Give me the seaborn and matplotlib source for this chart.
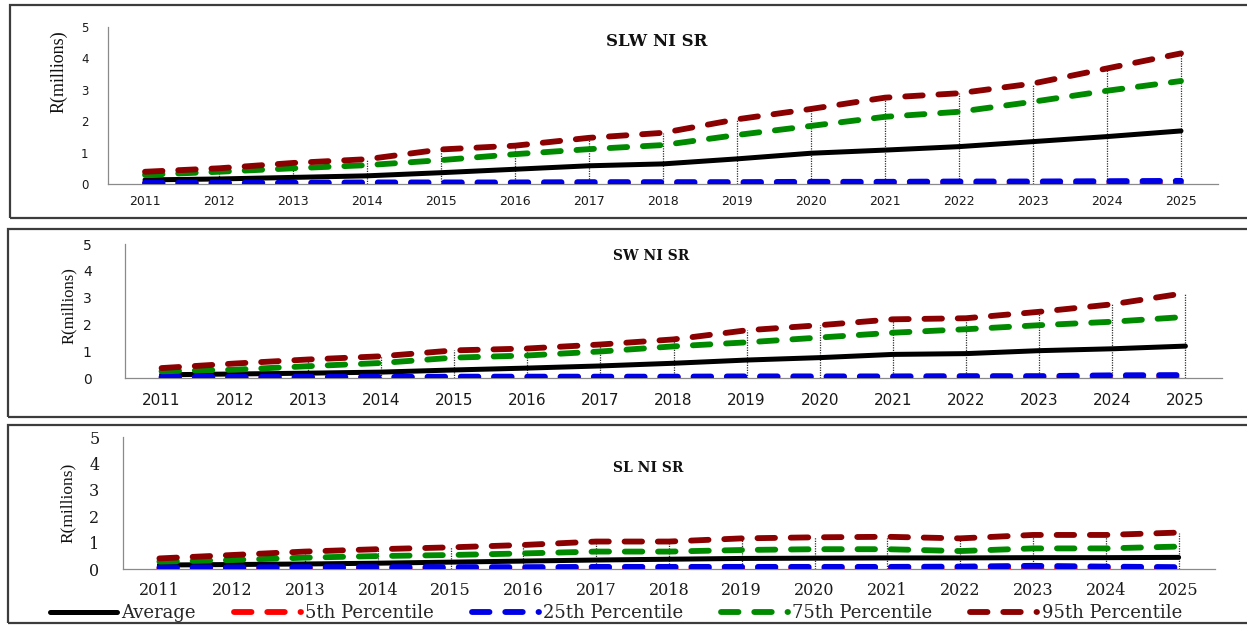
import matplotlib
matplotlib.use("Agg")
import matplotlib.pyplot as plt
from matplotlib.patches import Rectangle
import seaborn as sns

# ---------------------------------------------------------------- data
years = list(range(2011, 2026))
series_names = ["Average", "5th Percentile", "25th Percentile",
                "75th Percentile", "95th Percentile"]

# SLW NI SR  (R, millions)
slw_avg = [0.13, 0.16, 0.21, 0.26, 0.36, 0.47, 0.58, 0.64, 0.80, 0.98, 1.08, 1.19, 1.35, 1.51, 1.69]
slw_p5 = [0.01, 0.01, 0.01, 0.01, 0.01, 0.01, 0.01, 0.02, 0.02, 0.02, 0.02, 0.02, 0.02, 0.02, 0.03]
slw_p25 = [0.04, 0.04, 0.04, 0.05, 0.05, 0.05, 0.06, 0.06, 0.06, 0.07, 0.07, 0.08, 0.08, 0.09, 0.10]
slw_p75 = [0.29, 0.39, 0.50, 0.60, 0.76, 0.95, 1.11, 1.24, 1.56, 1.85, 2.14, 2.30, 2.62, 2.97, 3.28]
slw_p95 = [0.39, 0.50, 0.67, 0.79, 1.10, 1.22, 1.47, 1.63, 2.06, 2.39, 2.75, 2.89, 3.20, 3.68, 4.16]

# SW NI SR
sw_avg = [0.12, 0.15, 0.18, 0.22, 0.30, 0.37, 0.45, 0.55, 0.67, 0.76, 0.88, 0.91, 1.02, 1.09, 1.19]
sw_p5 = [0.01, 0.01, 0.01, 0.01, 0.01, 0.01, 0.01, 0.01, 0.02, 0.02, 0.02, 0.02, 0.02, 0.02, 0.03]
sw_p25 = [0.04, 0.04, 0.04, 0.04, 0.05, 0.05, 0.05, 0.05, 0.06, 0.06, 0.06, 0.07, 0.07, 0.10, 0.11]
sw_p75 = [0.25, 0.31, 0.44, 0.56, 0.76, 0.84, 0.99, 1.18, 1.33, 1.51, 1.69, 1.82, 1.97, 2.10, 2.28]
sw_p95 = [0.37, 0.54, 0.69, 0.81, 1.03, 1.10, 1.25, 1.44, 1.78, 1.97, 2.19, 2.23, 2.47, 2.75, 3.17]

# SL NI SR
sl_avg = [0.15, 0.17, 0.19, 0.22, 0.26, 0.30, 0.34, 0.37, 0.40, 0.41, 0.42, 0.42, 0.43, 0.43, 0.44]
sl_p5 = [0.01, 0.01, 0.01, 0.01, 0.01, 0.01, 0.01, 0.01, 0.01, 0.02, 0.02, 0.02, 0.02, 0.02, 0.02]
sl_p25 = [0.06, 0.06, 0.07, 0.07, 0.07, 0.07, 0.08, 0.08, 0.08, 0.08, 0.08, 0.09, 0.12, 0.09, 0.07]
sl_p75 = [0.28, 0.34, 0.43, 0.49, 0.53, 0.59, 0.66, 0.66, 0.72, 0.75, 0.75, 0.68, 0.78, 0.78, 0.85]
sl_p95 = [0.40, 0.53, 0.66, 0.75, 0.82, 0.91, 1.04, 1.04, 1.16, 1.20, 1.22, 1.16, 1.29, 1.29, 1.38]

panel_titles = ["SLW NI SR", "SW NI SR", "SL NI SR"]
panel_series = [
    [slw_avg, slw_p5, slw_p25, slw_p75, slw_p95],
    [sw_avg, sw_p5, sw_p25, sw_p75, sw_p95],
    [sl_avg, sl_p5, sl_p25, sl_p75, sl_p95],
]
y_ticks = [0, 1, 2, 3, 4, 5]

# ---------------------------------------------------------------- style
sns.set_style("white")
plt.rcParams["font.family"] = ["DejaVu Sans"]

W, H = 1247, 625
fig = plt.figure(figsize=(W / 100, H / 100), dpi=100)


def fx(x):
    return x / W


def fy(y):
    return 1 - y / H


colors = ["#000000", "#ff0000", "#0000e6", "#008a00", "#8b0000"]
dash = (0, (3.0, 2.7))
line_styles = [dict(lw=3.6, linestyle="-", solid_capstyle="round")] + \
              [dict(lw=4.2, linestyle=dash, dash_capstyle="round")] * 4

axis_grey = "#8a8a8a"

# per-panel geometry (pixels) and typography
layouts = [
    dict(left=108, right=1218, y0=184, y5=27,
         title_xy=(657, 42), title_size=12,
         ylab_xy=(59, 72), ylab_size=13,
         tick_family="DejaVu Sans", xtick_size=9, ytick_size=8.5,
         xpad=8, ypad=9,
         frame=(10, 5, 1260, 218)),
    dict(left=125, right=1222, y0=378, y5=244,
         title_xy=(651, 256), title_size=10,
         ylab_xy=(69, 306), ylab_size=12,
         tick_family="DejaVu Sans", xtick_size=11, ytick_size=10,
         xpad=11, ypad=19,
         frame=(8, 229, 1260, 417)),
    dict(left=123, right=1215, y0=569, y5=437,
         title_xy=(648, 468), title_size=10,
         ylab_xy=(68, 503), ylab_size=12.5,
         tick_family="DejaVu Serif", xtick_size=11.5, ytick_size=11.5,
         xpad=9.5, ypad=12,
         frame=(8, 425, 1260, 623)),
]

legend_handles = None
for title, series, lay in zip(panel_titles, panel_series, layouts):
    # panel frame
    x0, y0, x1, y1 = lay["frame"]
    fig.patches.append(Rectangle((fx(x0), fy(y1)), fx(x1 - x0), (y1 - y0) / H,
                                 transform=fig.transFigure, fill=False,
                                 edgecolor="#3c3c3c", lw=1.6, zorder=0))

    ax = fig.add_axes([fx(lay["left"]), fy(lay["y0"]),
                       fx(lay["right"] - lay["left"]), (lay["y0"] - lay["y5"]) / H])
    ax.set_facecolor("none")

    # drop lines from the highest series down to the axis
    ax.vlines(years, 0, series[-1], colors="#303030", linestyles=(0, (1, 1)),
              lw=0.9, zorder=1)

    for vals, c, st in zip(series, colors, line_styles):
        sns.lineplot(x=years, y=vals, ax=ax, color=c, legend=False, zorder=3, **st)

    legend_handles = ax.get_lines()[-5:]

    ax.set_xlim(2010.5, 2025.5)
    ax.set_ylim(0, 5)
    ax.set_xlabel("")
    ax.set_ylabel("")

    ax.set_xticks(years)
    ax.set_xticklabels([str(y) for y in years])
    ax.set_xticks([y - 0.5 for y in years] + [years[-1] + 0.5], minor=True)
    ax.set_yticks(y_ticks)
    ax.set_yticklabels([str(t) for t in y_ticks])

    ax.tick_params(axis="x", which="major", length=0, pad=lay["xpad"])
    ax.tick_params(axis="x", which="minor", length=5, width=0.9,
                   color=axis_grey, direction="out")
    ax.tick_params(axis="y", which="major", length=5, width=0.9,
                   color=axis_grey, direction="out", pad=lay["ypad"])
    for lab in ax.get_xticklabels():
        lab.set_fontfamily(lay["tick_family"])
        lab.set_fontsize(lay["xtick_size"])
        lab.set_color("#1a1a1a")
    for lab in ax.get_yticklabels():
        lab.set_fontfamily(lay["tick_family"])
        lab.set_fontsize(lay["ytick_size"])
        lab.set_color("#1a1a1a")

    for side in ("top", "right"):
        ax.spines[side].set_visible(False)
    for side in ("left", "bottom"):
        ax.spines[side].set_color(axis_grey)
        ax.spines[side].set_linewidth(0.9)

    fig.text(fx(lay["title_xy"][0]), fy(lay["title_xy"][1]), title,
             ha="center", va="center", family="DejaVu Serif",
             fontweight="bold", fontsize=lay["title_size"], color="#111111")
    fig.text(fx(lay["ylab_xy"][0]), fy(lay["ylab_xy"][1]), "R(millions)",
             ha="center", va="center", rotation=90, family="Liberation Serif",
             fontsize=lay["ylab_size"], color="#111111")

fig.legend(legend_handles, series_names, loc="center",
           bbox_to_anchor=(fx(616), fy(613)), ncol=5, frameon=False,
           prop=dict(family="DejaVu Serif", size=13),
           handlelength=3.7, handletextpad=0.25, columnspacing=2.1,
           borderaxespad=0, borderpad=0)

fig.savefig("out.png", dpi=100)
